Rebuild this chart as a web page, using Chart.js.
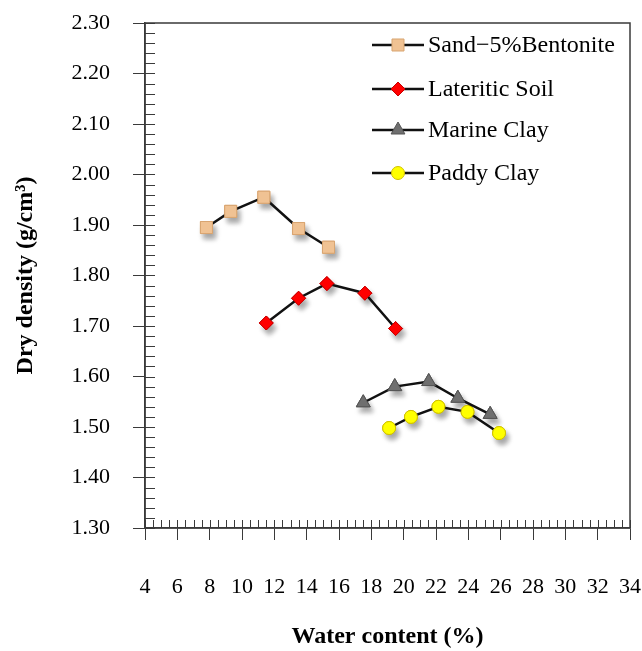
<!DOCTYPE html>
<html>
<head>
<meta charset="utf-8">
<script src="https://cdn.jsdelivr.net/npm/chart.js@4.4.1/dist/chart.umd.min.js"></script>
<style>
  html, body { margin: 0; padding: 0; background: #fff; }
  canvas { display: block; }
</style>
</head>
<body>
<canvas id="chart" width="642" height="651"></canvas>
<script>
// values
const seriesNames = ['Sand\u22125%Bentonite', 'Lateritic Soil', 'Marine Clay', 'Paddy Clay']

const sandWater = [7.8, 9.3, 11.35, 13.5, 15.35]
const sandDensity = [1.895, 1.927, 1.955, 1.893, 1.856]

const lateriticWater = [11.5, 13.5, 15.25, 17.6, 19.5]
const lateriticDensity = [1.706, 1.755, 1.784, 1.765, 1.695]

const marineWater = [17.5, 19.45, 21.55, 23.35, 25.35]
const marineDensity = [1.548, 1.580, 1.590, 1.557, 1.525]

const paddyWater = [19.1, 20.45, 22.15, 23.95, 25.9]
const paddyDensity = [1.498, 1.520, 1.540, 1.530, 1.488]

const xMin = 4
const xMax = 34
const xStep = 2
const yMin = 1.3
const yMax = 2.3
const yStep = 0.1

const serif = "'Times New Roman', 'Liberation Serif', serif"
const axisColor = '#3a3a3a'

const toPoints = (xs, ys) => xs.map((x, i) => ({ x, y: ys[i] }))

const makeSeries = (label, xs, ys, style) => ({
  label,
  data: toPoints(xs, ys),
  showLine: true,
  borderColor: '#111',
  borderWidth: 2.5,
  pointBorderWidth: 1,
  pointHoverRadius: style.pointRadius,
  ...style
})

const datasets = [
  makeSeries(seriesNames[0], sandWater, sandDensity, {
    pointStyle: 'rect', pointRadius: 8.5,
    pointBackgroundColor: '#f0c293', pointBorderColor: '#d9a571'
  }),
  makeSeries(seriesNames[1], lateriticWater, lateriticDensity, {
    pointStyle: 'rectRot', pointRadius: 7,
    pointBackgroundColor: '#ff0000', pointBorderColor: '#c80000'
  }),
  makeSeries(seriesNames[2], marineWater, marineDensity, {
    pointStyle: 'triangle', pointRadius: 8,
    pointBackgroundColor: '#6f6f6f', pointBorderColor: '#555555'
  }),
  makeSeries(seriesNames[3], paddyWater, paddyDensity, {
    pointStyle: 'circle', pointRadius: 6.5,
    pointBackgroundColor: '#ffff00', pointBorderColor: '#cfc000'
  })
]

// soft drop shadow under every marker, drawn from the library's own point elements
const markerShadow = {
  id: 'markerShadow',
  beforeDatasetsDraw: chart => {
    const { ctx } = chart
    ctx.save()
    ctx.shadowColor = 'rgba(0,0,0,0.35)'
    ctx.shadowBlur = 5
    ctx.shadowOffsetX = 3
    ctx.shadowOffsetY = 5
    chart.data.datasets.forEach((ds, i) => {
      chart.getDatasetMeta(i).data.forEach(pt => pt.draw(ctx, chart.chartArea))
    })
    ctx.restore()
  }
}

// inner minor ticks and the frame round the plot area
const axisTicks = {
  id: 'axisTicks',
  afterDraw: chart => {
    const { ctx, chartArea: { left, right, top, bottom }, scales: { x, y } } = chart
    ctx.save()
    ctx.strokeStyle = axisColor
    ctx.lineWidth = 1
    ctx.beginPath()
    const xCount = Math.round((xMax - xMin) / 0.5)
    for (let i = 0; i <= xCount; i++) {
      const px = Math.round(x.getPixelForValue(xMin + i * 0.5)) + 0.5
      ctx.moveTo(px, bottom)
      ctx.lineTo(px, bottom - 8)
    }
    const yCount = Math.round((yMax - yMin) / 0.02)
    for (let i = 0; i <= yCount; i++) {
      const py = Math.round(y.getPixelForValue(yMin + i * 0.02)) + 0.5
      ctx.moveTo(left, py)
      ctx.lineTo(left + 10, py)
    }
    ctx.stroke()
    ctx.lineWidth = 1.5
    ctx.strokeRect(left, top, right - left, bottom - top)
    ctx.restore()
  }
}

// legend inside the plot, line through marker like the original
const insideLegend = {
  id: 'insideLegend',
  afterDraw: chart => {
    const { ctx, chartArea: { right, top } } = chart
    const rowY = [22, 66, 107, 150]
    const x1 = right - 258
    const x2 = right - 206
    const mid = (x1 + x2) / 2
    ctx.save()
    chart.data.datasets.forEach((ds, i) => {
      const yy = top + rowY[i]
      ctx.strokeStyle = ds.borderColor
      ctx.lineWidth = 2.5
      ctx.beginPath()
      ctx.moveTo(x1, yy)
      ctx.lineTo(x2, yy)
      ctx.stroke()
      ctx.fillStyle = ds.pointBackgroundColor
      ctx.strokeStyle = ds.pointBorderColor
      ctx.lineWidth = 1
      Chart.helpers.drawPoint(ctx, {
        pointStyle: ds.pointStyle, radius: ds.pointRadius, borderWidth: 1, rotation: 0
      }, mid, yy)
      ctx.fillStyle = '#000'
      ctx.font = `24px ${serif}`
      ctx.textBaseline = 'middle'
      ctx.textAlign = 'left'
      ctx.fillText(ds.label, x2 + 4, yy + 1)
    })
    ctx.restore()
  }
}

new Chart(document.getElementById('chart'), {
  type: 'scatter',
  data: { datasets },
  plugins: [markerShadow, axisTicks, insideLegend],
  options: {
    responsive: false,
    animation: false,
    layout: { padding: { top: 23, right: 12, left: 0, bottom: 0 } },
    plugins: {
      legend: { display: false },
      tooltip: { enabled: false }
    },
    scales: {
      x: {
        type: 'linear',
        min: xMin,
        max: xMax,
        afterFit: scale => {
          scale.height = 123
          scale.paddingLeft = 0
          scale.paddingRight = 0
        },
        ticks: {
          stepSize: xStep,
          padding: 34,
          color: '#000',
          maxRotation: 0,
          autoSkip: false,
          font: { family: serif, size: 22 }
        },
        grid: { drawOnChartArea: false, drawTicks: true, tickLength: 12, color: axisColor, lineWidth: 1 },
        border: { color: axisColor, width: 1.5 },
        title: {
          display: true,
          text: 'Water content (%)',
          color: '#000',
          padding: { top: 0, bottom: 0 },
          font: { family: serif, size: 24, weight: 'bold' }
        }
      },
      y: {
        type: 'linear',
        min: yMin,
        max: yMax,
        afterFit: scale => {
          scale.width = 145
          scale.paddingTop = 0
          scale.paddingBottom = 0
        },
        ticks: {
          stepSize: yStep,
          padding: 23,
          color: '#000',
          font: { family: serif, size: 22 },
          callback: v => Number(v).toFixed(2)
        },
        grid: { drawOnChartArea: false, drawTicks: true, tickLength: 12, color: axisColor, lineWidth: 1 },
        border: { color: axisColor, width: 1.5 },
        title: {
          display: true,
          text: 'Dry density (g/cm\u00b3)',
          color: '#000',
          padding: { top: 11, bottom: 0 },
          font: { family: serif, size: 24, weight: 'bold' }
        }
      }
    }
  }
})
</script>
</body>
</html>
